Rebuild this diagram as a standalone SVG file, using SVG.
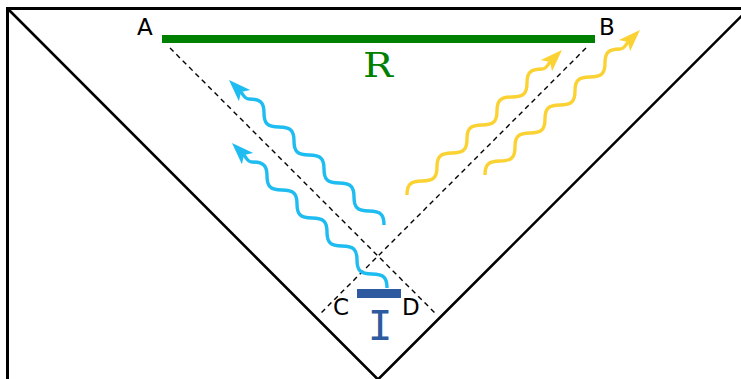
<svg xmlns="http://www.w3.org/2000/svg" width="741" height="379" viewBox="0 0 741 379">
<style>
.frame{fill:none;stroke:#000;stroke-width:3}
.cone{fill:none;stroke:#000;stroke-width:2.6}
.dash{fill:none;stroke:#000;stroke-width:1.4;stroke-dasharray:5 4}
.wave{fill:none;stroke-width:3.4;stroke-linecap:butt}
.blue .wave{stroke:#1ebcf0}
.blue .head{fill:#1ebcf0;stroke:none}
.yellow .wave{stroke:#fbd234}
.yellow .head{fill:#fbd234;stroke:none}
.lbl{font-family:"DejaVu Sans","Liberation Sans",sans-serif;font-size:23px;fill:#000}
.rl{font-family:"DejaVu Serif","Liberation Serif",serif;font-size:34px}
.il{font-family:"DejaVu Sans Mono","Liberation Mono",monospace;font-size:41px}
</style>
<defs>
<path id="wv" d="M0,0 c0,-10 -3,-14 -15,-14 s-15,-4 -15,-14 s-3,-14 -15,-14 s-15,-4 -15,-14 s-3,-14 -15,-14 s-15,-4 -15,-14 s-3,-14 -15,-14 s-15,-4 -15,-14 s-3,-14 -15,-14 c-4,0 -5,-3 -8,-7"/>
<path id="hd" d="M0,0 L-22,-8 L-17,0 L-22,8 Z"/>
</defs>
<g id="frame">
<rect class="frame" x="7.5" y="8.5" width="800" height="400"/>
<path class="cone" d="M9,10 L378,379.5 L750,7.5"/>
</g>
<g id="connectors">
<line class="dash" x1="170" y1="48" x2="437" y2="315"/>
<line class="dash" x1="586" y1="48" x2="319" y2="315"/>
<g id="blue-wave-1" class="blue" transform="translate(384,225)">
<use href="#wv" class="wave"/>
<use href="#hd" class="head" transform="translate(-155,-145) rotate(225)"/>
</g>
<g id="blue-wave-2" class="blue" transform="translate(387,288)">
<use href="#wv" class="wave"/>
<use href="#hd" class="head" transform="translate(-155,-145) rotate(225)"/>
</g>
<g id="yellow-wave-1" class="yellow" transform="translate(407,195) scale(-1,1)">
<use href="#wv" class="wave"/>
<use href="#hd" class="head" transform="translate(-155,-145) rotate(225)"/>
</g>
<g id="yellow-wave-2" class="yellow" transform="translate(485,175) scale(-1,1)">
<use href="#wv" class="wave"/>
<use href="#hd" class="head" transform="translate(-155,-145) rotate(225)"/>
</g>
</g>
<g id="R">
<rect x="162" y="35" width="433" height="8" fill="#008000"/>
<text class="lbl" x="137" y="35">A</text>
<text class="lbl" x="599" y="35">B</text>
<text class="rl" x="363" y="77" fill="#008000" textLength="30" lengthAdjust="spacingAndGlyphs">R</text>
</g>
<g id="I">
<rect x="357" y="289" width="44" height="9" fill="#2e5aa0"/>
<text class="lbl" x="333" y="315">C</text>
<text class="lbl" x="402" y="315">D</text>
<text class="il" x="380" y="340" fill="#2e5aa0" text-anchor="middle">I</text>
</g>
</svg>
